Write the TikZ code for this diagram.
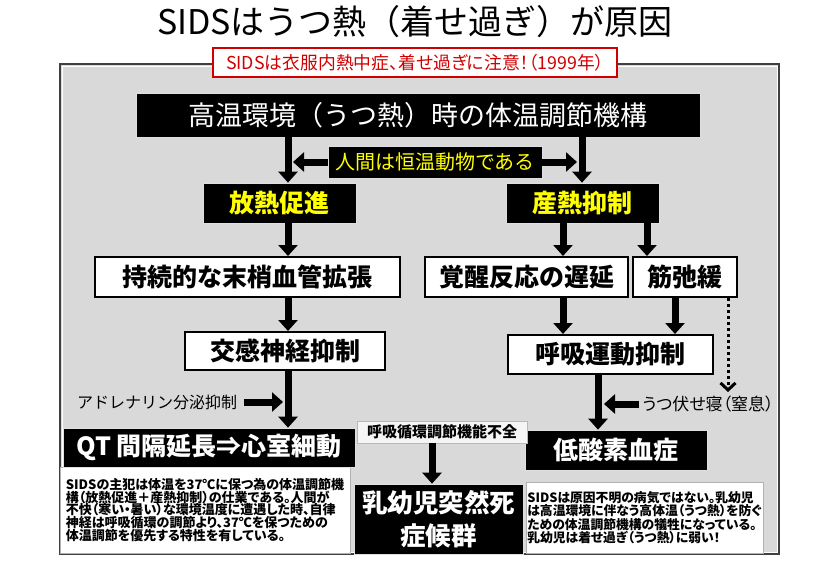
\documentclass[tikz,border=0pt]{standalone}
\usepackage{fontspec}
\setmainfont{Noto Sans CJK JP}
\newfontfamily\jpp{Noto Sans CJK JP}[RawFeature=+palt]
\usetikzlibrary{arrows.meta,calc}
\definecolor{panelgray}{HTML}{D9D9D9}
\definecolor{notered}{HTML}{D00000}
\definecolor{yel}{HTML}{FFFF00}
\newcommand\myfs[1]{\fontsize{#1}{#1}\selectfont}
\tikzset{
  blk/.style={fill=black, draw=gray!25, line width=0.7, inner sep=0, text=white},
  wbox/.style={fill=white, draw=black, line width=2, inner sep=0, text=black, font=\bfseries\myfs{25}},
  para/.style={fill=white, draw=gray!60, line width=0.8, inner sep=0, align=left, text=black},
  big/.style={line width=7, -{Triangle[width=19,length=11]}},
  dotarr/.style={line width=3, dash pattern=on 3pt off 3pt, -{Straight Barb[length=7,width=15,line width=3]}}
}
\begin{document}
\begin{tikzpicture}[x=1pt,y=-1pt]
\useasboundingbox (0,0) rectangle (830,560);
\fill[white] (0,0) rectangle (830,560);
% title
\node[font=\myfs{34}, inner sep=0] (title) at (415,22) {SIDSはうつ熱（着せ過ぎ）が原因};
% panel
\draw[fill=panelgray, draw=black!75, line width=1.6] (60,64) rectangle (779,554);
\draw[white, line width=0.8] (62,66) rectangle (777,552);
% red note
\node[fill=white, draw=notered, line width=1.2, text=notered, minimum width=404, minimum height=29, inner sep=0, font=\jpp\myfs{17.8}] (note) at (415,62.5) {SIDSは衣服内熱中症、着せ過ぎに注意！（1999年）};
% boxes
\node[blk, minimum width=564, minimum height=44, font=\myfs{27}] (top) at (418,115) {高温環境（うつ熱）時の体温調節機構};
\node[blk, minimum width=214, minimum height=32, text=yel, font=\myfs{20}] (human) at (435,162) {人間は恒温動物である};
\node[blk, minimum width=153, minimum height=40, text=yel, font=\bfseries\myfs{25}] (hou) at (279.5,203) {放熱促進};
\node[blk, minimum width=153, minimum height=40, text=yel, font=\bfseries\myfs{25}] (san) at (582.5,203) {産熱抑制};
\node[wbox, minimum width=305, minimum height=40] (jiz) at (247.5,277) {持続的な末梢血管拡張};
\node[wbox, minimum width=203, minimum height=40] (kak) at (526.5,277) {覚醒反応の遅延};
\node[wbox, minimum width=104, minimum height=40] (kin) at (685,277) {筋弛緩};
\node[wbox, minimum width=200, minimum height=38] (kok) at (285,351) {交感神経抑制};
\node[wbox, minimum width=205, minimum height=39] (koky) at (610.5,354.5) {呼吸運動抑制};
\node[para, minimum width=290, minimum height=86, font=\bfseries\jpp\fontsize{13}{12.8}\selectfont] (lp) at (205,510) {SIDSの主犯は体温を37℃に保つ為の体温調節機\\構（放熱促進＋産熱抑制）の仕業である。人間が\\不快（寒い・暑い）な環境温度に遭遇した時、自律\\神経は呼吸循環の調節より、37℃を保つための\\体温調節を優先する特性を有している。};
\node[para, minimum width=237, minimum height=71, font=\bfseries\jpp\fontsize{12.8}{11.6}\selectfont] (rp) at (644.5,517.5) {SIDSは原因不明の病気ではない。乳幼児\\は高温環境に伴なう高体温（うつ熱）を防ぐ\\ための体温調節機構の犠牲になっている。\\乳幼児は着せ過ぎ（うつ熱）に弱い！};
\node[blk, minimum width=292, minimum height=39, font=\bfseries\myfs{25}] (qt) at (209,447.5) {QT 間隔延長⇒心室細動};
\node[blk, minimum width=182, minimum height=40, font=\bfseries\myfs{25}] (tei) at (616,450) {低酸素血症};
\node[blk, minimum width=169, minimum height=70, align=center, font=\bfseries\fontsize{25.5}{33}\selectfont] (sids) at (438.5,519) {乳幼児突然死\\症候群};
\node[fill=gray!8, draw=gray!55, line width=0.6, minimum width=170, minimum height=22, inner sep=0, font=\bfseries\jpp\myfs{15}] (lab) at (442,432) {呼吸循環調節機能不全};
\node[font=\myfs{16}, inner sep=0] (adr) at (157,402) {アドレナリン分泌抑制};
\node[font=\jpp\myfs{17}, inner sep=0] (utsu) at (708,404) {うつ伏せ寝（窒息）};
% coordinates
\coordinate (xL) at (288,0);
\coordinate (xR) at (582,0);
\coordinate (xR1) at (563,0);
\coordinate (xR2) at (647,0);
\coordinate (xK) at (675,0);
\coordinate (xD) at (728,0);
\coordinate (xV) at (598,0);
\coordinate (xS) at (432,0);
\coordinate (dotend) at (728,392);
% arrows
\draw[big] (xL |- top.south) -- (xL |- hou.north);
\draw[big] (xR |- top.south) -- (xR |- san.north);
\draw[big] (human.west) -- ($(xL |- human.west)+(5,0)$);
\draw[big] (human.east) -- ($(xR |- human.east)+(-5,0)$);
\draw[big] (xL |- hou.south) -- (xL |- jiz.north);
\draw[big] (xL |- jiz.south) -- (xL |- kok.north);
\draw[big] (xL |- kok.south) -- (xL |- qt.north);
\draw[big] (xR1 |- san.south) -- (xR1 |- kak.north);
\draw[big] (xR2 |- san.south) -- (xR2 |- kin.north);
\draw[big] (xR1 |- kak.south) -- (xR1 |- koky.north);
\draw[big] (xK |- kin.south) -- (xK |- koky.north);
\draw[big] (xV |- koky.south) -- (xV |- tei.north);
\draw[big] ($(utsu.west)+(-3,0)$) -- ($(xV |- utsu.west)+(6,0)$);
\draw[big] ($(adr.east)+(7,0)$) -- ($(xL |- adr.east)+(-5,0)$);
\draw[dotarr] (xD |- kin.south) -- (dotend);
\draw[big] (xS |- lab.south) -- (xS |- sids.north);
\end{tikzpicture}
\end{document}
